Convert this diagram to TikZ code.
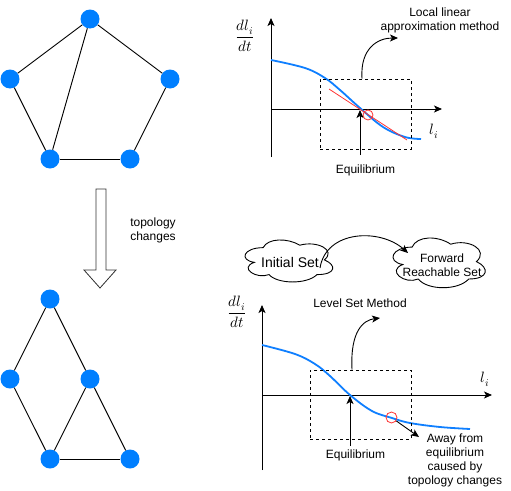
\documentclass[tikz,border=0pt]{standalone}
\usepackage{fontspec}
\setmainfont{Liberation Sans}
\usepackage{unicode-math}
\setmathfont{Latin Modern Math}
\usetikzlibrary{arrows.meta}
\definecolor{nodeblue}{HTML}{007FFF}
\definecolor{curveblue}{HTML}{0F7FFF}
\definecolor{redline}{HTML}{FF3333}
\tikzset{
  vtx/.style={circle,fill=nodeblue,minimum size=19pt,inner sep=0pt},
  edge/.style={line width=0.9pt},
  axis/.style={line width=0.9pt,-{Stealth[length=8pt,width=7pt,inset=2pt]}},
  arr/.style={line width=0.9pt,-{Stealth[length=8pt,width=7pt,inset=2pt]}},
  curvepath/.style={curveblue,line width=1.8pt},
  dbox/.style={draw,dashed,dash pattern=on 3pt off 3pt,line width=0.8pt},
  lbl/.style={font=\fontsize{12}{14}\selectfont,align=center,inner sep=0pt},
  biglbl/.style={font=\fontsize{14}{16}\selectfont,align=center,inner sep=0pt},
  mlbl/.style={font=\fontsize{15}{17}\selectfont,inner sep=0pt},
  cloudline/.style={line width=0.9pt,fill=white}
}
\newcommand{\cloudpath}{(0.25,0.25) .. controls (0.05,0.25) and (0,0.5) .. (0.16,0.55)
  .. controls (0,0.66) and (0.18,0.9) .. (0.31,0.8)
  .. controls (0.4,1) and (0.7,1) .. (0.8,0.8)
  .. controls (1,0.8) and (1,0.6) .. (0.875,0.5)
  .. controls (1,0.3) and (0.8,0.1) .. (0.625,0.2)
  .. controls (0.5,0.05) and (0.3,0.05) .. (0.25,0.25) -- cycle}
\begin{document}
\begin{tikzpicture}[x=1pt,y=-1pt]
\useasboundingbox (0,0) rectangle (511,490);
% top graph
\node[vtx] (a1) at (90,19) {};
\node[vtx] (a2) at (10,79) {};
\node[vtx] (a3) at (170,79) {};
\node[vtx] (a4) at (50,159) {};
\node[vtx] (a5) at (130,159) {};
\draw[edge] (a1) -- (a2);
\draw[edge] (a1) -- (a3);
\draw[edge] (a1) -- (a4);
\draw[edge] (a2) -- (a4);
\draw[edge] (a4) -- (a5);
\draw[edge] (a3) -- (a5);
% bottom graph
\node[vtx] (b1) at (50,299) {};
\node[vtx] (b2) at (10,379) {};
\node[vtx] (b3) at (90,379) {};
\node[vtx] (b4) at (50,459) {};
\node[vtx] (b5) at (130,459) {};
\draw[edge] (b1) -- (b2);
\draw[edge] (b1) -- (b3);
\draw[edge] (b2) -- (b4);
\draw[edge] (b3) -- (b4);
\draw[edge] (b3) -- (b5);
\draw[edge] (b4) -- (b5);
% hollow arrow
\draw[line width=0.8pt,draw=black!80] (96,189) -- (106,189) -- (106,270) -- (116,270) -- (100,288) -- (84,270) -- (96,270) -- cycle;
\node[lbl] (topo) at (153,230) {topology\\changes};
% ---- top plot
\coordinate (o1) at (271,109);
\coordinate (y1b) at (271,157);
\coordinate (y1t) at (271,18);
\coordinate (x1r) at (442,109);
\draw[axis] (y1b) -- (y1t);
\draw[axis] (o1) -- (x1r);
\node[mlbl] (f1) at (245,36) {$\dfrac{dl_i}{dt}$};
\node[mlbl] (l1) at (434,131) {$l_i$};
\draw[curvepath] plot[smooth,tension=0.6] coordinates {(271,60) (305,68) (325,78) (340,90) (360,108) (383,127) (405,137) (421,139)};
\coordinate (r1s) at (329,89);
\coordinate (r1e) at (407,140);
\draw[redline,line width=0.8pt] (r1s) -- (r1e);
\node[draw=redline,circle,minimum size=10pt,inner sep=0pt,line width=0.8pt] (c1) at (368,115) {};
\node[dbox,minimum width=91pt,minimum height=70pt,inner sep=0pt] (box1) at (365.5,114) {};
\coordinate (eq1b) at (360,155);
\coordinate (eq1t) at (360,110);
\draw[arr] (eq1b) -- (eq1t);
\node[lbl] (eq1) at (365.5,170) {Equilibrium};
\coordinate (m1) at (398,38);
\draw[arr] (box1.north -| 362,0) .. controls (360,48) and (378,38) .. (m1);
\node[lbl] (llam) at (440,20) {Local linear\\approximation method};
% ---- clouds
\draw[cloudline,shift={(238.6,235.4)},x=98pt,y=-49pt] \cloudpath;
\draw[cloudline,shift={(386.3,232.6)},x=103pt,y=-58pt] \cloudpath;
\node[biglbl] (cl1t) at (290,262) {Initial Set};
\node[lbl] (cl2t) at (442,265) {Forward\\Reachable Set};
\coordinate (cs) at (320,268);
\coordinate (ce) at (408,253);
\draw[arr] (cs) .. controls (326,230) and (380,228) .. (ce);
% ---- bottom plot
\coordinate (o2) at (262,395);
\coordinate (y2b) at (262,470);
\coordinate (y2t) at (262,305);
\coordinate (x2r) at (492,395);
\draw[axis] (y2b) -- (y2t);
\draw[axis] (o2) -- (x2r);
\node[mlbl] (f2) at (237,312) {$\dfrac{dl_i}{dt}$};
\node[mlbl] (l2) at (485,379) {$l_i$};
\draw[curvepath] plot[smooth,tension=0.6] coordinates {(262,345) (295,354) (315,364) (330,376) (350,395) (372,411) (392,418) (410,423) (440,427) (470,429)};
\node[draw=redline,circle,minimum size=11pt,inner sep=0pt,line width=0.8pt] (c2) at (391.5,417.5) {};
\node[dbox,minimum width=101pt,minimum height=69pt,inner sep=0pt] (box2) at (360.5,404.5) {};
\coordinate (eq2b) at (350,446);
\coordinate (eq2t) at (350,396);
\draw[arr] (eq2b) -- (eq2t);
\node[lbl] (eq2) at (355.5,455) {Equilibrium};
\coordinate (m2) at (380,318);
\draw[arr] (box2.north -| 352,0) .. controls (350,330) and (364,320) .. (m2);
\node[lbl] (lsm) at (360,303) {Level Set Method};
\coordinate (aw) at (419,437);
\draw[arr] (c2) -- (aw);
\node[lbl] (away) at (455,460) {Away from\\equilibrium\\caused by\\topology changes};
\end{tikzpicture}
\end{document}
